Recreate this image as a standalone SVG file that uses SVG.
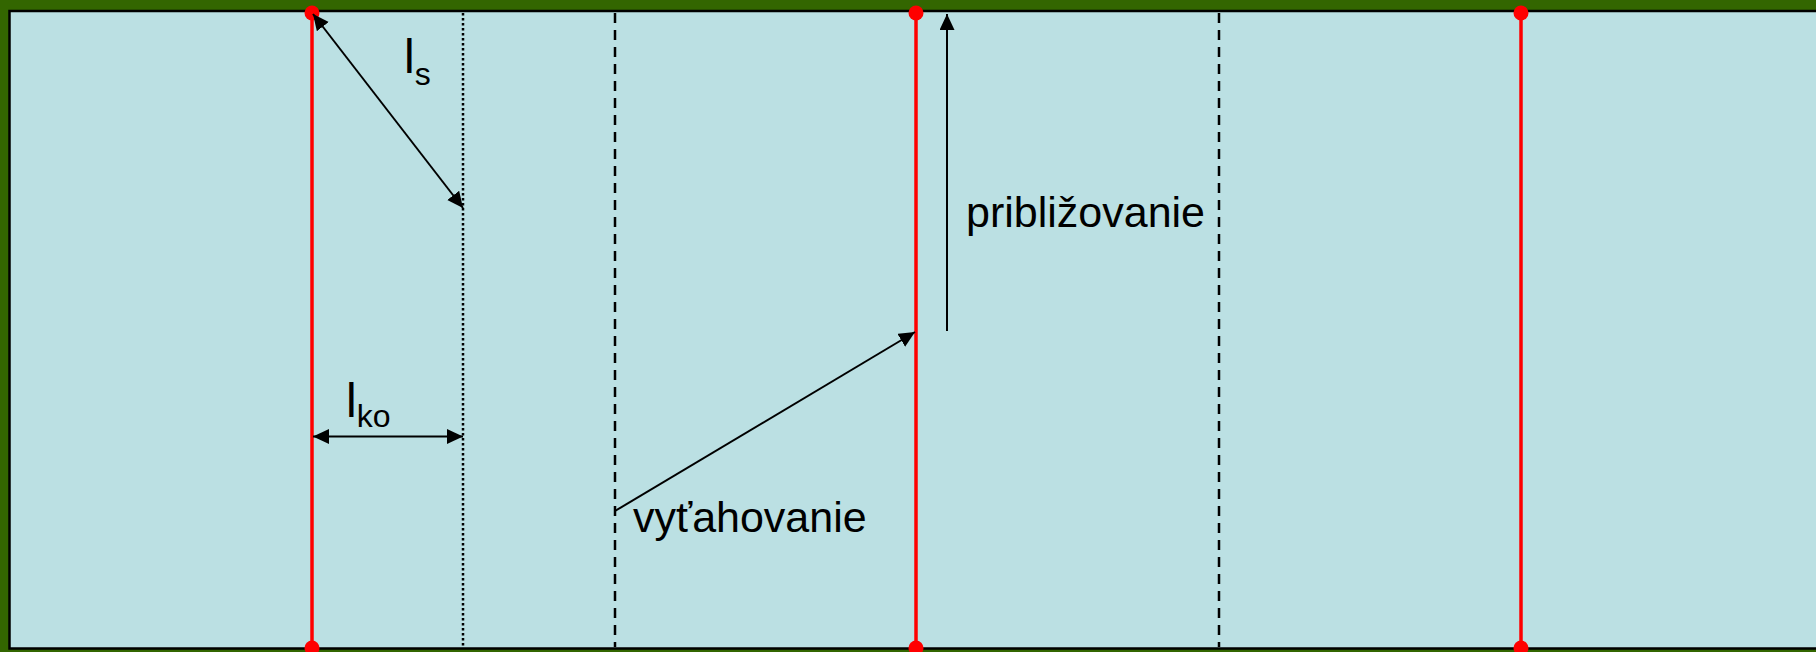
<svg xmlns="http://www.w3.org/2000/svg" width="1816" height="652" viewBox="0 0 1816 652">
<style>
.red{stroke:#FF0000;stroke-width:3.5;fill:none}
.dot{fill:#FF0000}
.arr{stroke:#000;stroke-width:2;fill:none}
.dotted{stroke:#000;stroke-width:2.5;stroke-dasharray:2.5,2.5;fill:none}
.dashed{stroke:#000;stroke-width:2.5;stroke-dasharray:10,7;fill:none}
.lbl{font-family:"Liberation Sans",Arial,sans-serif;fill:#000}
</style>
<defs>
<marker id="ah" markerUnits="userSpaceOnUse" markerWidth="18" markerHeight="16" refX="16" refY="7.5" orient="auto-start-reverse">
<path d="M0,0 L16,7.5 L0,15 Z" fill="#000"/>
</marker>
</defs>
<rect x="0" y="0" width="1816" height="652" fill="#336600"/>
<rect x="9.5" y="11" width="1830" height="637.5" fill="#BBE0E3" stroke="#000" stroke-width="2.5"/>
<g id="guides">
<line class="dotted" x1="463" y1="13" x2="463" y2="647"/>
<line class="dashed" x1="615" y1="13" x2="615" y2="647"/>
<line class="dashed" x1="1219" y1="13" x2="1219" y2="647"/>
</g>
<g id="pole1">
<line class="red" x1="312" y1="13" x2="312" y2="648"/>
<circle class="dot" cx="312" cy="13" r="7.5"/>
<circle class="dot" cx="312" cy="648" r="7.5"/>
</g>
<g id="pole2">
<line class="red" x1="916" y1="13" x2="916" y2="648"/>
<circle class="dot" cx="916" cy="13" r="7.5"/>
<circle class="dot" cx="916" cy="648" r="7.5"/>
</g>
<g id="pole3">
<line class="red" x1="1521" y1="13" x2="1521" y2="648"/>
<circle class="dot" cx="1521" cy="13" r="7.5"/>
<circle class="dot" cx="1521" cy="648" r="7.5"/>
</g>
<g id="connectors">
<line class="arr" x1="313" y1="14" x2="463" y2="208" marker-start="url(#ah)" marker-end="url(#ah)"/>
<line class="arr" x1="313" y1="436.5" x2="463" y2="436.5" marker-start="url(#ah)" marker-end="url(#ah)"/>
<line class="arr" x1="615" y1="511" x2="915" y2="332" marker-end="url(#ah)"/>
<line class="arr" x1="947" y1="331" x2="947" y2="14" marker-end="url(#ah)"/>
</g>
<g id="labels">
<text class="lbl" x="404" y="73" font-size="48">l<tspan font-size="32" dy="12">s</tspan></text>
<text class="lbl" x="346" y="417" font-size="48">l<tspan font-size="32" dy="10">ko</tspan></text>
<text class="lbl" x="966" y="227" font-size="43">približovanie</text>
<text class="lbl" x="633" y="532" font-size="43">vyťahovanie</text>
</g>
</svg>
